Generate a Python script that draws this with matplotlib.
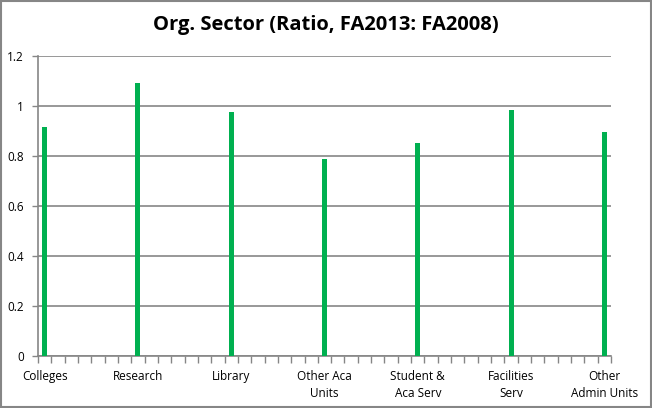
import numpy as np
import matplotlib
matplotlib.use("Agg")
import matplotlib.pyplot as plt
from matplotlib.patches import Rectangle

sectors = ["Colleges", "Research", "Library", "Other Aca\nUnits",
           "Student &\nAca Serv", "Facilities\nServ", "Other\nAdmin Units"]
ratios = [0.917, 1.093, 0.977, 0.789, 0.853, 0.985, 0.897]
yticks = [0, 0.2, 0.4, 0.6, 0.8, 1, 1.2]
ytick_labels = ["0", "0.2", "0.4", "0.6", "0.8", "1", "1.2"]

step = 7  # each sector sits on every 7th category slot
grey = "#868686"

plt.rcParams["font.family"] = ["Open Sans", "DejaVu Sans"]

fig = plt.figure(figsize=(6.52, 4.08), dpi=100)
ax = fig.add_axes([38 / 652, 52 / 408, 573 / 652, 300 / 408])

n_slots = (len(sectors) - 1) * step + 1
x = np.arange(len(sectors)) * step
ax.bar(x, ratios, width=0.38, color="#00B050", zorder=3)

ax.set_xlim(-0.5, n_slots - 0.5)
ax.set_ylim(0, 1.2)
ax.set_yticks(yticks)
ax.set_yticklabels(ytick_labels, fontsize=8.5)
ax.set_xticks(x)
ax.set_xticklabels(sectors, fontsize=8.5, linespacing=1.45)
ax.set_xticks(np.arange(n_slots + 1) - 0.5, minor=True)
ax.tick_params(axis="x", which="major", length=0, pad=10)
ax.tick_params(axis="x", which="minor", length=5, color=grey, width=1)
ax.tick_params(axis="y", length=4, color=grey, width=1, pad=6)
ax.yaxis.grid(True, color=grey, linewidth=1.2, zorder=0)

for side in ["top", "right"]:
    ax.spines[side].set_visible(False)
for side in ["left", "bottom"]:
    ax.spines[side].set_color(grey)
    ax.spines[side].set_linewidth(1.2)

fig.text(0.5, 1 - 25 / 408, "Org. Sector (Ratio, FA2013: FA2008)",
         ha="center", va="center", fontsize=14.5, fontweight="bold")

fig.patches.append(Rectangle((0.001, 0.002), 0.997, 0.995, transform=fig.transFigure,
                             fill=False, edgecolor=grey, linewidth=1.5))

fig.savefig("out.png", dpi=100)
